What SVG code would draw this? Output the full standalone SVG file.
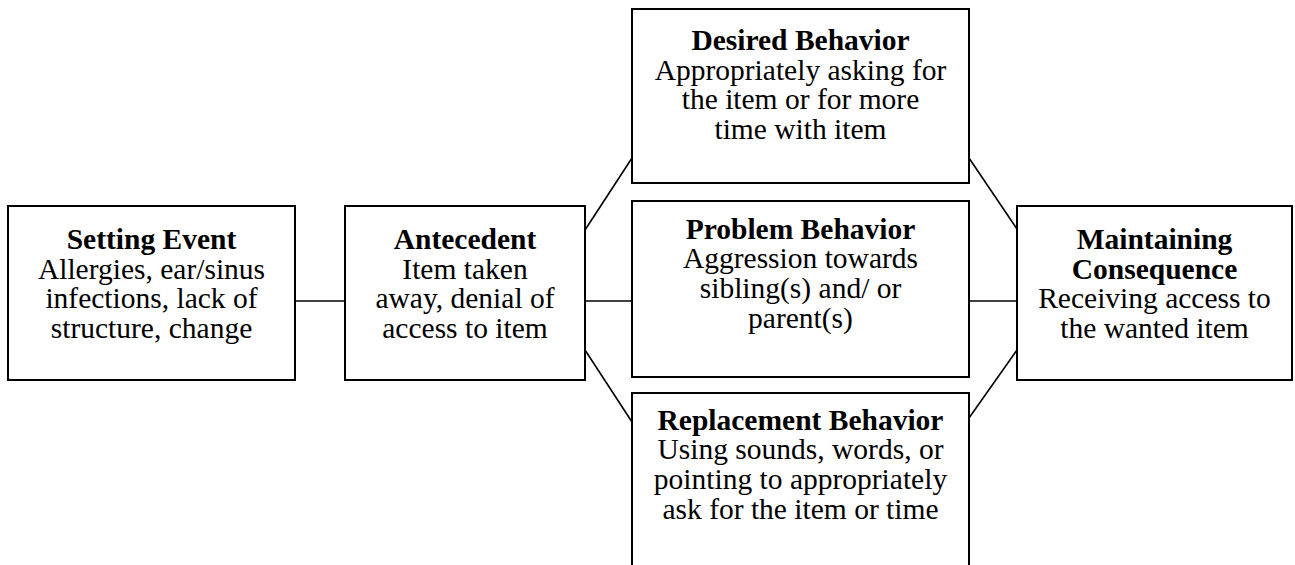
<svg xmlns="http://www.w3.org/2000/svg" width="1295" height="565" viewBox="0 0 1295 565">
<style>
.box{fill:#fff;stroke:#000;stroke-width:2}
.con line{stroke:#000;stroke-width:1.6}
text{font-family:"Liberation Serif","Times New Roman",serif;font-size:29.5px;fill:#000;text-anchor:middle}
.b{font-weight:bold}
</style>
<rect width="1295" height="565" fill="#fff"/>
<g id="connectors" class="con">
<line x1="295" y1="301" x2="345" y2="301"/>
<line x1="585" y1="230" x2="632" y2="158"/>
<line x1="585" y1="301" x2="632" y2="301"/>
<line x1="585" y1="350" x2="632" y2="422"/>
<line x1="969" y1="158" x2="1017" y2="229"/>
<line x1="969" y1="301" x2="1017" y2="301"/>
<line x1="969" y1="418" x2="1017" y2="350"/>
</g>
<g id="setting-event">
<rect class="box" x="8" y="206" width="287" height="174"/>
<text x="151.5" y="249" class="b">Setting Event</text>
<text x="151.5" y="278.7">Allergies, ear/sinus</text>
<text x="151.5" y="308.4">infections, lack of</text>
<text x="151.5" y="338">structure, change</text>
</g>
<g id="antecedent">
<rect class="box" x="345" y="206" width="240" height="174"/>
<text x="465" y="249" class="b">Antecedent</text>
<text x="465" y="278.7">Item taken</text>
<text x="465" y="308.4">away, denial of</text>
<text x="465" y="338">access to item</text>
</g>
<g id="desired-behavior">
<rect class="box" x="632" y="9" width="337" height="174"/>
<text x="800.5" y="50" class="b">Desired Behavior</text>
<text x="800.5" y="79.7">Appropriately asking for</text>
<text x="800.5" y="109.4">the item or for more</text>
<text x="800.5" y="139">time with item</text>
</g>
<g id="problem-behavior">
<rect class="box" x="632" y="201" width="337" height="176"/>
<text x="800.5" y="238.5" class="b">Problem Behavior</text>
<text x="800.5" y="268.2">Aggression towards</text>
<text x="800.5" y="297.9">sibling(s) and/ or</text>
<text x="800.5" y="327.5">parent(s)</text>
</g>
<g id="replacement-behavior">
<rect class="box" x="632" y="393" width="337" height="200"/>
<text x="800.5" y="429.5" class="b">Replacement Behavior</text>
<text x="800.5" y="459.2">Using sounds, words, or</text>
<text x="800.5" y="488.9">pointing to appropriately</text>
<text x="800.5" y="518.5">ask for the item or time</text>
</g>
<g id="maintaining-consequence">
<rect class="box" x="1017" y="206" width="275" height="174"/>
<text x="1154.5" y="249" class="b">Maintaining</text>
<text x="1154.5" y="278.7" class="b">Consequence</text>
<text x="1154.5" y="308.4">Receiving access to</text>
<text x="1154.5" y="338">the wanted item</text>
</g>
</svg>
